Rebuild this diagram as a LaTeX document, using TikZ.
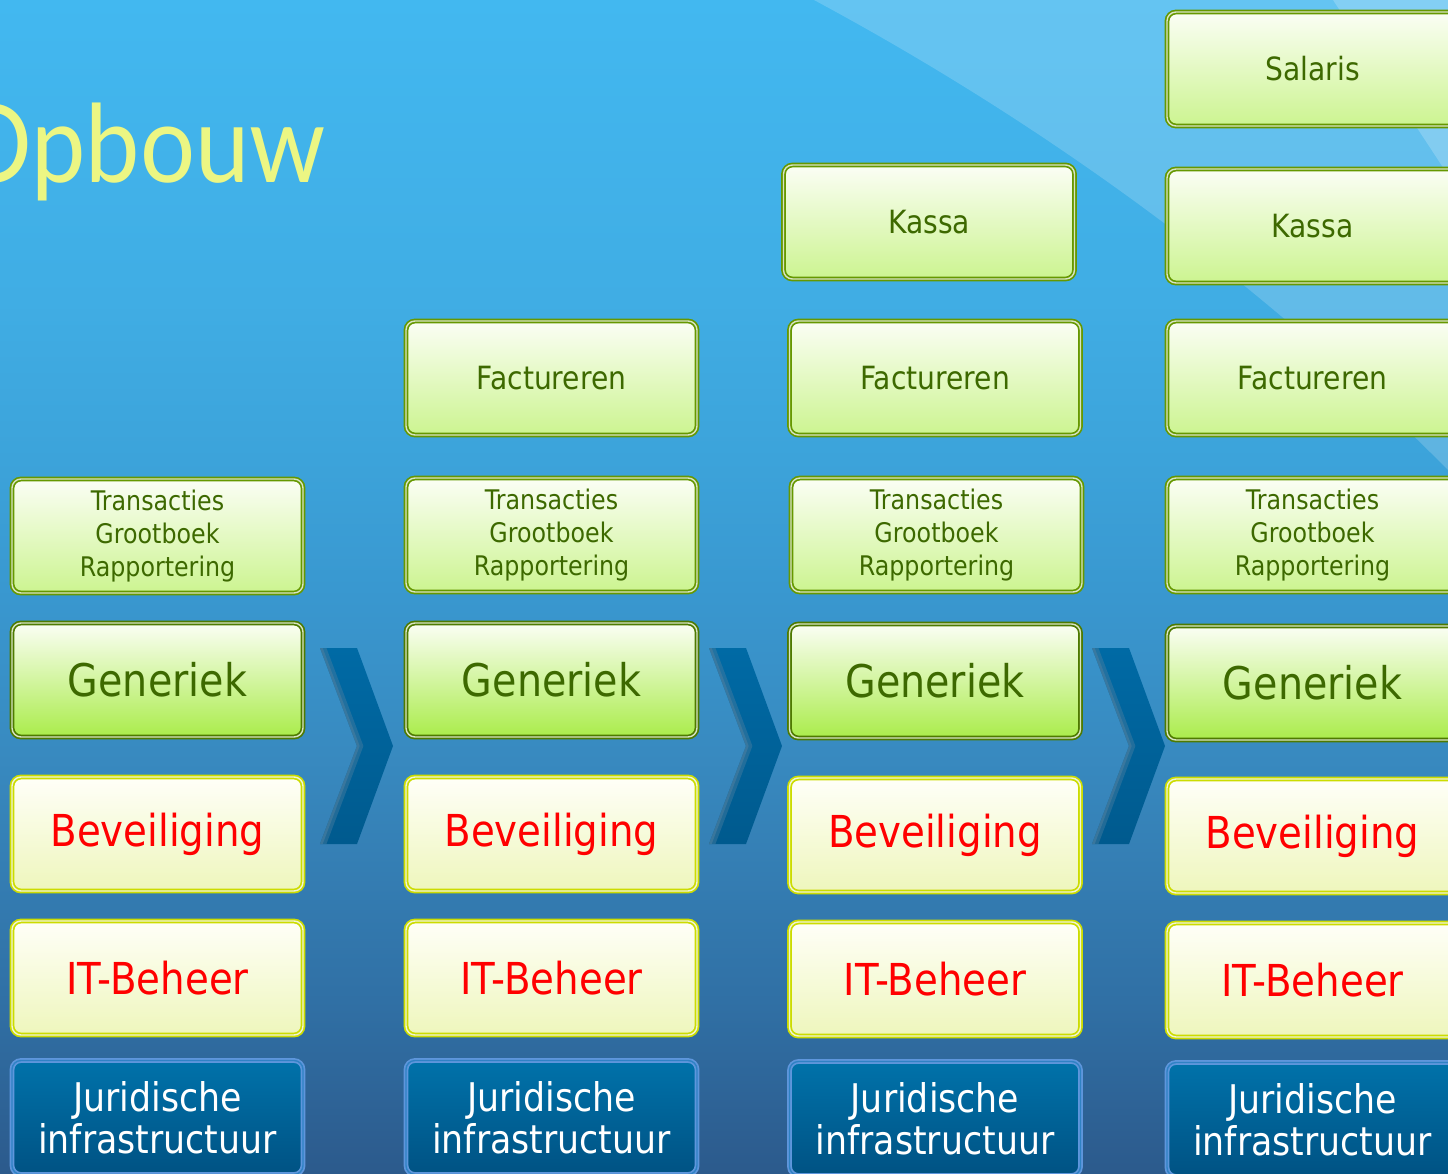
\documentclass[tikz,border=0pt]{standalone}
\usepackage{fontspec}
\setmainfont{DejaVu Sans}[FakeStretch=0.88]
\newfontfamily\titlefont{Lato}[FakeStretch=0.9]
\usetikzlibrary{shadings}
\definecolor{bga}{HTML}{42B8F0}
\definecolor{bgb}{HTML}{40ADE4}
\definecolor{bgc}{HTML}{3CA3DA}
\definecolor{bgd}{HTML}{3998D0}
\definecolor{bge}{HTML}{388AC0}
\definecolor{bgf}{HTML}{3070A5}
\definecolor{bgg}{HTML}{2C5A8C}
\definecolor{titlecol}{HTML}{ECF683}
\definecolor{gborder}{HTML}{669800}
\definecolor{gborderdk}{HTML}{4E7A00}
\definecolor{gline}{HTML}{D8E4C4}
\definecolor{gtop}{HTML}{FBFEF5}
\definecolor{gbot}{HTML}{CCF490}
\definecolor{genbot}{HTML}{AAEC4A}
\definecolor{gtext}{HTML}{3D6900}
\definecolor{yborder}{HTML}{CCDC00}
\definecolor{yline}{HTML}{F0F4D8}
\definecolor{ytop}{HTML}{FFFFF8}
\definecolor{ybot}{HTML}{EEF6BC}
\definecolor{jborder}{HTML}{5E96DC}
\definecolor{jline}{HTML}{2F82C4}
\definecolor{jtop}{HTML}{0072AA}
\definecolor{jbot}{HTML}{005283}
\definecolor{chevtop}{HTML}{006AA5}
\definecolor{chevbot}{HTML}{005A8E}
\definecolor{chevedge}{HTML}{4A7EA0}
\pgfdeclareverticalshading{bgshade}{100bp}{color(0bp)=(bgg); color(25bp)=(bgg); color(32.4bp)=(bgf); color(43bp)=(bge); color(50bp)=(bgd); color(55.4bp)=(bgc); color(62.2bp)=(bgb); color(75bp)=(bga); color(100bp)=(bga)}
\tikzset{
  box/.style={rounded corners=9pt, minimum width=291pt, minimum height=114pt,
    line width=1.7pt, double distance=1.4pt, inner sep=0pt, align=center},
  gbox/.style={box, draw=gborder, double=gline, top color=gtop, bottom color=gbot,
    text=gtext, font=\fontsize{32}{38}\selectfont},
  tbox/.style={gbox, font=\fontsize{27}{33}\selectfont},
  genbox/.style={box, draw=gborderdk, double=gline, top color=gtop, bottom color=genbot,
    text=gtext, font=\fontsize{45}{50}\selectfont},
  ybox/.style={box, draw=yborder, double=yline, top color=ytop, bottom color=ybot,
    text=red, font=\fontsize{44}{50}\selectfont},
  jbox/.style={box, draw=jborder, double=jline, top color=jtop, bottom color=jbot,
    text=white, font=\fontsize{39.5}{42}\selectfont},
}
\newcommand\chevron[1]{%
  \begin{scope}
    \clip (#1,648) -- (#1+37,648) -- (#1+73,746) -- (#1+37,844) -- (#1,844) -- (#1+37,746) -- cycle;
    \shade[top color=chevtop, bottom color=chevbot] (#1,648) rectangle (#1+73,844);
    \draw[chevedge, line width=12pt, opacity=0.45] (#1,648) -- (#1+37,746) -- (#1,844);
    \draw[chevedge, line width=5pt, opacity=0.6] (#1,648) -- (#1+37,746) -- (#1,844);
  \end{scope}}
\begin{document}
\begin{tikzpicture}[x=1pt,y=-1pt]
\useasboundingbox (0,0) rectangle (1448,1174);
\clip (0,0) rectangle (1448,1174);
\shade[shading=bgshade] (0,0) rectangle (1448,1174);
\fill[white,opacity=0.18] (814,0) .. controls (1000,100) and (1230,250) .. (1448,470) -- (1448,0) -- cycle;
\fill[white,opacity=0.2] (1333,0) -- (1448,175) -- (1448,0) -- cycle;
\node[anchor=base east, inner sep=0pt, text=titlecol, font=\titlefont\fontsize{108}{120}\selectfont] (title) at (326,183) {Opbouw};
\chevron{320}
\chevron{709}
\chevron{1092}
% column 1
\node[tbox] (atrans) at (157.5,536) {Transacties\\Grootboek\\Rapportering};
\node[genbox] (agen) at (157.5,680) {Generiek};
\node[ybox] (abev) at (157.5,834) {Beveiliging};
\node[ybox] (ait) at (157.5,978) {IT-Beheer};
\node[jbox] (ajur) at (157.5,1117.5) {Juridische\\infrastructuur};
% column 2
\node[gbox] (bfact) at (551.5,378) {Factureren};
\node[tbox] (btrans) at (551.5,535) {Transacties\\Grootboek\\Rapportering};
\node[genbox] (bgen) at (551.5,680) {Generiek};
\node[ybox] (bbev) at (551.5,834) {Beveiliging};
\node[ybox] (bit) at (551.5,978) {IT-Beheer};
\node[jbox] (bjur) at (551.5,1117.5) {Juridische\\infrastructuur};
% column 3
\node[gbox] (ckassa) at (929,222) {Kassa};
\node[gbox] (cfact) at (935,378) {Factureren};
\node[tbox] (ctrans) at (936.5,535) {Transacties\\Grootboek\\Rapportering};
\node[genbox] (cgen) at (935,681) {Generiek};
\node[ybox] (cbev) at (935,835) {Beveiliging};
\node[ybox] (cit) at (935,979) {IT-Beheer};
\node[jbox] (cjur) at (935,1118.5) {Juridische\\infrastructuur};
% column 4
\node[gbox] (dsal) at (1312.5,69) {Salaris};
\node[gbox] (dkassa) at (1312.5,226) {Kassa};
\node[gbox] (dfact) at (1312.5,378) {Factureren};
\node[tbox] (dtrans) at (1312.5,535) {Transacties\\Grootboek\\Rapportering};
\node[genbox] (dgen) at (1312.5,683) {Generiek};
\node[ybox] (dbev) at (1312.5,836) {Beveiliging};
\node[ybox] (dit) at (1312.5,980) {IT-Beheer};
\node[jbox] (djur) at (1312.5,1119.5) {Juridische\\infrastructuur};
\end{tikzpicture}
\end{document}
